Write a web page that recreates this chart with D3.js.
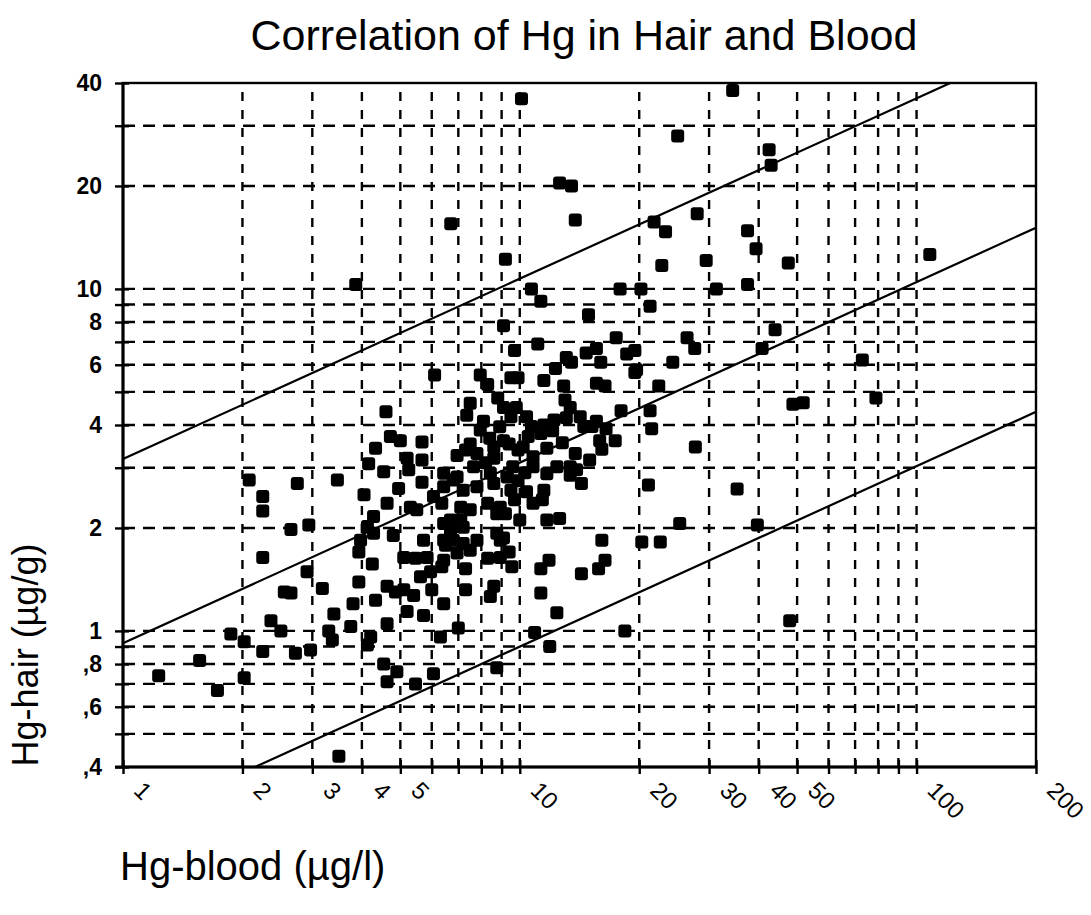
<!DOCTYPE html>
<html>
<head>
<meta charset="utf-8">
<script src="https://cdnjs.cloudflare.com/ajax/libs/d3/7.8.5/d3.min.js"></script>
<style>
	body { margin: 0; background: #fff; }
	text { font-family: "Liberation Sans", Arial, sans-serif; fill: #000; }
</style>
</head>
<body>
<div id="chart"></div>
<script>
// tick values / labels of the two log axes
var xGrid = [1, 2, 3, 4, 5, 6, 7, 8, 9, 10, 20, 30, 40, 50, 60, 70, 80, 90, 100, 200]
var xLabels = {1: "1", 2: "2", 3: "3", 4: "4", 5: "5", 10: "10", 20: "20", 30: "30", 40: "40", 50: "50", 100: "100", 200: "200"}
var yGrid = [0.4, 0.5, 0.6, 0.7, 0.8, 0.9, 1, 2, 3, 4, 5, 6, 7, 8, 9, 10, 20, 30, 40]
var yLabels = {0.4: ",4", 0.6: ",6", 0.8: ",8", 1: "1", 2: "2", 4: "4", 6: "6", 8: "8", 10: "10", 20: "20", 40: "40"}

// fitted line and the two bands, given by their ends at blood = 1 and 200
var fitBlood = [1, 200]
var fitUpper = [3.18, 52]
var fitMid = [0.92, 15.1]
var fitLower = [0.267, 4.37]

// [Hg-blood (µg/l), Hg-hair (µg/g)]
var samples = [
	[10.1,36],[34.4,38],[25,28],[42.5,25.5],[43,23],[21.8,15.7],[23.3,14.7],[28,16.6],[37.5,14.8],[39.4,13.1],
	[22.8,11.7],[29.5,12.1],[47.5,11.9],[17.9,10],[20.2,10],[31.3,10],[37.5,10.3],[21.3,8.9],[44,7.6],[17.5,7.2],
	[26.4,7.2],[27.6,6.7],[40.8,6.7],[73,6.2],[24.3,6.1],[12.6,20.4],[13.5,20],[13.8,15.9],[6.7,15.5],[9.2,12.2],
	[3.86,10.3],[10.7,10],[11.3,9.2],[14.9,8.4],[9.1,7.8],[9.7,6.6],[11.1,6.9],[13.1,6.3],[14.7,6.5],[16,6.1],[108,12.6],
	[19.5,5.7],[16.4,5.2],[22.4,5.2],[18,4.4],[21.3,4.4],[21.5,3.9],[16.5,3.9],[17.4,3.6],[16.1,3.4],[27.7,3.45],
	[48.8,4.6],[51.8,4.65],[79,4.8],[21.1,2.67],[35.3,2.6],[25.3,2.06],[39.7,2.04],[20.3,1.82],[22.6,1.82],[16.1,1.84],
	[16.4,1.61],[18.4,1.0],[47.9,1.07],
	[9.3,2.82],[9.5,2.58],[9.7,2.42],[10.4,2.55],[10.8,2.36],[11.4,2.42],[11.5,2.58],[11.7,2.88],[13.4,2.85],[14.3,2.7],
	[9.2,2.2],[10,2.11],[11.7,2.11],[12.6,2.13],[9.1,1.87],[9.4,1.7],[9.55,1.54],[11.85,1.61],[11.3,1.52],[14.3,1.47],
	[15.8,1.52],[11.3,1.29],[12.4,1.13],[10.9,0.99],[11.9,0.9],
	[13.5,6.1],[15.6,6.7],[18.6,6.45],[19.5,6.6],[19.7,5.8],[9.5,5.5],[9.9,5.5],[11.5,5.4],[12.3,5.85],[15.6,5.3],
	[9.1,4.5],[9.8,4.5],[13,4.73],[13.4,4.5],[9.5,4.23],[10.4,4.23],[10.7,3.96],[11.5,4.0],[12.2,4.14],[13.1,4.2],
	[14.2,4.23],[14.5,3.96],[15.2,3.96],[15.9,3.6],[9.1,3.6],[9.4,3.52],[9.9,3.38],[10.5,3.7],[11.3,3.78],[11.7,3.42],
	[13.8,3.3],[15,3.16],[10.8,3.23],[9.6,3.02],[10.8,3.02],[12.4,3.02],[13.4,3.02],[13.9,2.96],
	[6.1,5.6],[7.95,5.6],[8.3,5.25],[7.5,4.63],[4.6,4.37],[7.35,4.27],[15.6,4.1],[7.95,3.87],[8.4,3.66],[4.72,3.7],
	[5.0,3.6],[5.67,3.57],[4.33,3.42],[7.3,3.38],[7.8,3.3],[5.2,3.2],[5.67,3.16],[4.16,3.08],[4.54,2.92],[7.65,3.02],
	[8.6,3.2],[6.43,2.89],[6.95,2.82],[8.43,2.89],[5.25,2.96],[5.67,2.72],[4.95,2.61],[4.05,2.5],[4.63,2.36],[6.06,2.47],
	[6.43,2.64],[6.8,2.76],[7.2,2.58],[7.8,2.64],[8.6,2.7],[5.3,2.3],[5.5,2.26],[7.1,2.3],[8.3,2.36],[7.5,2.26],
	[8.93,2.3],[4.28,2.16],[4.13,2.02],[4.28,1.93],[6.43,2.06],[6.69,1.97],[7.2,2.01],[4.8,1.9],[5.72,1.84],[6.43,1.84],
	[6.8,1.84],[8.75,1.93],[8.93,1.84],[3.97,1.84],[3.93,1.7],[5.1,1.64],[5.46,1.63],[5.84,1.64],[6.43,1.61],[6.95,1.69],
	[7.5,1.72],[8.3,1.63],[4.25,1.57],[7.3,1.52],[5.62,1.44],[5.96,1.49],[2.91,1.49],[3.93,1.39],[8.6,1.35],[7.3,1.32],
	[8.43,1.26],[6.0,1.32],[4.63,1.35],[4.86,1.3],[5.1,1.32],[2.55,1.3],[2.65,1.29],[3.18,1.33],[4.33,1.23],[3.8,1.2],
	[6.43,1.2],[3.4,1.12],[5.2,1.14],[5.72,1.11],[2.36,1.07],[2.5,1.0],[1.87,0.98],[2.02,0.93],[2.25,0.87],[2.72,0.86],
	[2.97,0.88],[3.3,1.0],[3.37,0.94],[3.75,1.03],[4.21,0.96],[4.13,0.91],[4.63,1.05],[6.31,0.96],[7.0,1.02],[1.56,0.82],
	[1.23,0.74],[1.73,0.67],[2.02,0.73],[4.54,0.8],[4.9,0.76],[4.63,0.71],[5.46,0.7],[6.06,0.75],[8.75,0.78],[3.5,0.43],
	[2.08,2.76],[2.25,2.47],[2.25,2.24],[2.75,2.7],[3.47,2.76],[2.65,1.98],[2.94,2.04],[2.25,1.64],
	[6.36,2.36],[7.1,2.11],[8.75,2.2],[6.69,2.11],[6.5,1.78],[7.2,1.8],[7.8,1.84],[8.93,1.64],[6.36,1.54],[5.4,1.27],
	[7.5,3.52],[8.6,3.45],[6.95,3.26],
	// extra ones inside the dense middle
	[8.1,4.1],[8.9,3.95],[8.2,3.1],[9.9,2.75],[10.3,2.9],[12.8,3.55],[12.1,3.85],[10.2,3.45],[8.8,4.8],[12.9,5.2]
]

var w = 1091, h = 915
// plot box (don't call these top/left: window.top is taken)
var pL = 123, pR = 1036, pT = 83, pB = 767

var x = d3.scaleLog().domain([1, 200]).range([pL, pR])
var y = d3.scaleLog().domain([0.4, 40]).range([pB, pT])

var svg = d3.select("#chart")
	.append("svg")
	.attr("width", w)
	.attr("height", h)

svg.append("rect").attr("width", w).attr("height", h).attr("fill", "#fff")

svg.append("defs").append("clipPath")
	.attr("id", "plot-clip")
	.append("rect")
	.attr("x", pL).attr("y", pT)
	.attr("width", pR - pL).attr("height", pB - pT)

// dashed grid
svg.append("g").selectAll("line")
	.data(yGrid.filter(function(d){ return d > 0.4 && d < 40 }))
	.enter().append("line")
	.attr("x1", pL).attr("x2", pR)
	.attr("y1", function(d){ return y(d) }).attr("y2", function(d){ return y(d) })
	.attr("stroke", "#000").attr("stroke-width", 2.4)
	.attr("stroke-dasharray", "12,8")

svg.append("g").selectAll("line")
	.data(xGrid.filter(function(d){ return d > 1 && d < 200 }))
	.enter().append("line")
	.attr("x1", function(d){ return x(d) }).attr("x2", function(d){ return x(d) })
	.attr("y1", pB).attr("y2", pT)
	.attr("stroke", "#000").attr("stroke-width", 2.4)
	.attr("stroke-dasharray", "9,9")

// frame
svg.append("rect")
	.attr("x", pL).attr("y", pT)
	.attr("width", pR - pL).attr("height", pB - pT)
	.attr("fill", "none").attr("stroke", "#000").attr("stroke-width", 2.4)

// y axis, ticks cross the axis line
var yAxis = svg.append("g")
	.attr("transform", "translate(" + (pL + 6) + ",0)")
	.call(d3.axisLeft(y).tickValues(yGrid).tickSize(14).tickPadding(13)
		.tickFormat(function(d){ return yLabels[d] || "" }))
yAxis.select(".domain").remove()
yAxis.selectAll("line").attr("stroke", "#000").attr("stroke-width", 2.4)
yAxis.selectAll("text")
	.attr("font-size", 23).attr("font-weight", "bold")
	.attr("font-family", "Liberation Sans, Arial, sans-serif")

// x axis, labels turned 45deg
var xAxis = svg.append("g")
	.attr("transform", "translate(0," + (pB - 7) + ")")
	.call(d3.axisBottom(x).tickValues(xGrid).tickSize(14)
		.tickFormat(function(d){ return xLabels[d] || "" }))
xAxis.select(".domain").remove()
xAxis.selectAll("line").attr("stroke", "#000").attr("stroke-width", 2.4)
xAxis.selectAll("text")
	.attr("font-size", 24)
	.attr("font-family", "Liberation Sans, Arial, sans-serif")
	.attr("text-anchor", "start")
	.attr("y", null).attr("dy", null)
	.attr("transform", "translate(9,32) rotate(45)")

svg.append("line")
	.attr("x1", pL).attr("x2", pL).attr("y1", pT - 1).attr("y2", pB + 1)
	.attr("stroke", "#000").attr("stroke-width", 3)
svg.append("line")
	.attr("x1", pL - 8).attr("x2", pR).attr("y1", pB).attr("y2", pB)
	.attr("stroke", "#000").attr("stroke-width", 3)

// regression line and bands
var fitLine = d3.line()
	.x(function(d){ return x(d[0]) })
	.y(function(d){ return y(d[1]) })

svg.append("g")
	.attr("clip-path", "url(#plot-clip)")
	.selectAll("path")
	.data([fitUpper, fitMid, fitLower])
	.enter().append("path")
	.attr("d", function(f){ return fitLine(fitBlood.map(function(b, i){ return [b, f[i]] })) })
	.attr("fill", "none").attr("stroke", "#000").attr("stroke-width", 2.2)

// samples
var sz = 13
svg.append("g").selectAll("rect")
	.data(samples)
	.enter().append("rect")
	.attr("x", function(d){ return x(d[0]) - sz / 2 })
	.attr("y", function(d){ return y(d[1]) - sz / 2 })
	.attr("width", sz).attr("height", sz)
	.attr("rx", 3)
	.attr("fill", "#000")

// titles
svg.append("text")
	.attr("x", 584).attr("y", 50)
	.attr("text-anchor", "middle")
	.attr("font-size", 43)
	.text("Correlation of Hg in Hair and Blood")

svg.append("text")
	.attr("transform", "translate(38,655) rotate(-90)")
	.attr("text-anchor", "middle")
	.attr("font-size", 36)
	.text("Hg-hair (µg/g)")

svg.append("text")
	.attr("x", 120).attr("y", 880)
	.attr("font-size", 40)
	.text("Hg-blood (µg/l)")
</script>
</body>
</html>
